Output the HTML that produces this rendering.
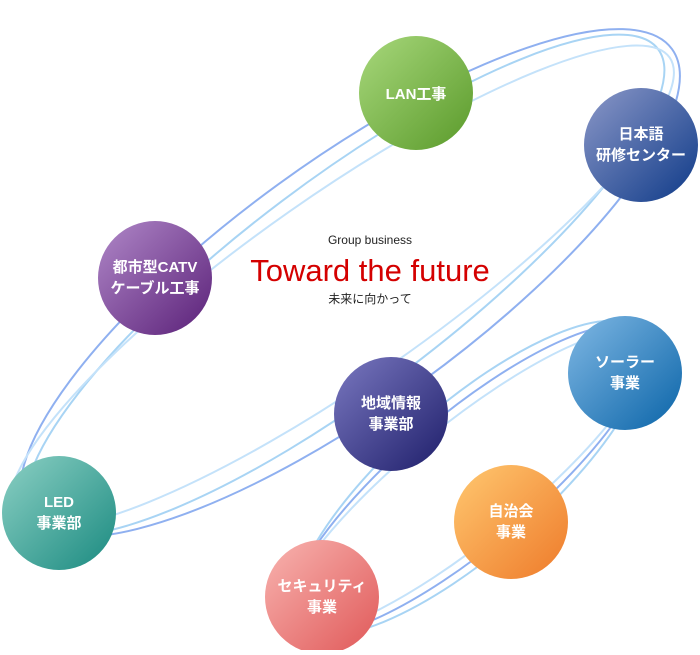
<!DOCTYPE html>
<html><head><meta charset="utf-8"><style>
body{margin:0;background:#fff;}
svg text{font-family:"Liberation Sans","Noto Sans CJK JP",sans-serif;}
</style></head><body>
<svg width="700" height="650" viewBox="0 0 700 650" xmlns="http://www.w3.org/2000/svg">
<defs>
<linearGradient id="g1" x1="0" y1="0" x2="1" y2="1"><stop offset="0" stop-color="#a8d87c"/><stop offset="1" stop-color="#5a9a2a"/></linearGradient>
<linearGradient id="g2" x1="0" y1="0" x2="1" y2="1"><stop offset="0" stop-color="#8c98c8"/><stop offset="1" stop-color="#0e3a88"/></linearGradient>
<linearGradient id="g3" x1="0" y1="0" x2="1" y2="1"><stop offset="0" stop-color="#b088c8"/><stop offset="1" stop-color="#5a2078"/></linearGradient>
<linearGradient id="g4" x1="0" y1="0" x2="1" y2="1"><stop offset="0" stop-color="#7a78c0"/><stop offset="1" stop-color="#1e1e6a"/></linearGradient>
<linearGradient id="g5" x1="0" y1="0" x2="1" y2="1"><stop offset="0" stop-color="#80b8e4"/><stop offset="1" stop-color="#0a64a8"/></linearGradient>
<linearGradient id="g6" x1="0" y1="0" x2="1" y2="1"><stop offset="0" stop-color="#8cd0c4"/><stop offset="1" stop-color="#1a8a80"/></linearGradient>
<linearGradient id="g7" x1="0" y1="0" x2="1" y2="1"><stop offset="0" stop-color="#ffc870"/><stop offset="1" stop-color="#ee7a2a"/></linearGradient>
<linearGradient id="g8" x1="0" y1="0" x2="1" y2="1"><stop offset="0" stop-color="#f8b4b0"/><stop offset="1" stop-color="#e05858"/></linearGradient>
</defs>
<g fill="none">
<ellipse cx="350" cy="283" rx="398" ry="122" transform="rotate(-36 350 283)" stroke="#8fb0f0" stroke-width="2"/>
<ellipse cx="345" cy="285" rx="392" ry="105" transform="rotate(-37 345 285)" stroke="#a8d4f4" stroke-width="2"/>
<ellipse cx="342" cy="287" rx="400" ry="92" transform="rotate(-35 342 287)" stroke="#c4e2fa" stroke-width="2"/>
<ellipse cx="468" cy="480" rx="228" ry="66" transform="rotate(-40 468 480)" stroke="#8fb0f0" stroke-width="2"/>
<ellipse cx="470" cy="478" rx="224" ry="74" transform="rotate(-41 470 478)" stroke="#a8d4f4" stroke-width="2"/>
<ellipse cx="466" cy="482" rx="230" ry="58" transform="rotate(-39 466 482)" stroke="#c4e2fa" stroke-width="2"/>
</g>
<g font-weight="bold" fill="#fff" font-size="15" text-anchor="middle">
<circle cx="416" cy="93" r="57" fill="url(#g1)"/><text x="416" y="99">LAN工事</text>
<circle cx="641" cy="145" r="57" fill="url(#g2)"/><text x="641" y="139">日本語</text><text x="641" y="160">研修センター</text>
<circle cx="155" cy="278" r="57" fill="url(#g3)"/><text x="155" y="272">都市型CATV</text><text x="155" y="293">ケーブル工事</text>
<circle cx="391" cy="414" r="57" fill="url(#g4)"/><text x="391" y="408">地域情報</text><text x="391" y="429">事業部</text>
<circle cx="625" cy="373" r="57" fill="url(#g5)"/><text x="625" y="367">ソーラー</text><text x="625" y="388">事業</text>
<circle cx="59" cy="513" r="57" fill="url(#g6)"/><text x="59" y="507">LED</text><text x="59" y="528">事業部</text>
<circle cx="511" cy="522" r="57" fill="url(#g7)"/><text x="511" y="516">自治会</text><text x="511" y="537">事業</text>
<circle cx="322" cy="597" r="57" fill="url(#g8)"/><text x="322" y="591">セキュリティ</text><text x="322" y="612">事業</text>
</g>
<text x="370" y="244" text-anchor="middle" font-size="12" fill="#222">Group business</text>
<text x="370" y="281" text-anchor="middle" font-size="31" fill="#d40000">Toward the future</text>
<text x="370" y="303" text-anchor="middle" font-size="12" fill="#222">未来に向かって</text>
</svg>
</body></html>
